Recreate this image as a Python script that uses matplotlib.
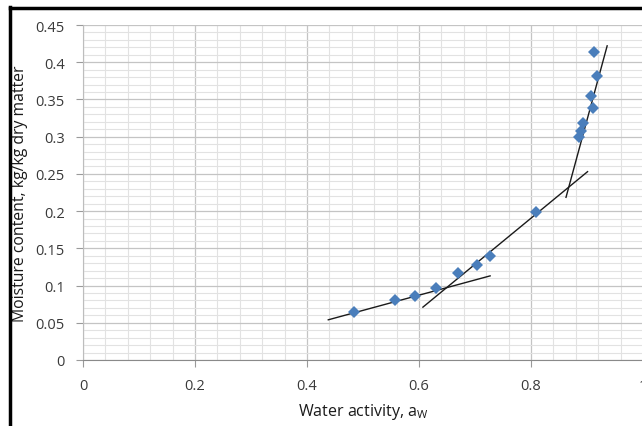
import numpy as np
import matplotlib
matplotlib.use('Agg')
import matplotlib.pyplot as plt
from matplotlib.lines import Line2D
from matplotlib.ticker import MultipleLocator

plt.rcParams['font.family'] = ['Open Sans', 'DejaVu Sans']
plt.rcParams['mathtext.fontset'] = 'custom'
plt.rcParams['mathtext.rm'] = 'Open Sans'
plt.rcParams['mathtext.it'] = 'Open Sans'

# measured sorption points (water activity, moisture content)
aw = [0.484, 0.557, 0.593, 0.630, 0.670, 0.703, 0.727, 0.809,
      0.886, 0.889, 0.892, 0.911, 0.908, 0.917, 0.913]
mc = [0.065, 0.080, 0.086, 0.097, 0.117, 0.127, 0.140, 0.199,
      0.300, 0.308, 0.319, 0.339, 0.355, 0.381, 0.414]

# three straight-line segments (start/end points)
seg1_x = [0.438, 0.727]
seg1_y = [0.054, 0.113]
seg2_x = [0.607, 0.901]
seg2_y = [0.071, 0.253]
seg3_x = [0.8625, 0.936]
seg3_y = [0.2185, 0.422]

fig = plt.figure(figsize=(6.42, 4.27), dpi=100)
ax = fig.add_axes([83 / 642, 66 / 427, 560 / 642, 335 / 427])

ax.set_xlim(0, 1)
ax.set_ylim(0, 0.45)
ax.xaxis.set_major_locator(MultipleLocator(0.2))
ax.xaxis.set_minor_locator(MultipleLocator(0.04))
ax.yaxis.set_major_locator(MultipleLocator(0.05))
ax.yaxis.set_minor_locator(MultipleLocator(0.01))
ax.xaxis.set_major_formatter(plt.FuncFormatter(lambda v, p: f'{v:g}'))
ax.yaxis.set_major_formatter(plt.FuncFormatter(lambda v, p: f'{v:g}'))

ax.grid(which='major', color='#c4c4c4', lw=0.9)
ax.grid(which='minor', color='#e2e2e2', lw=0.8)
ax.set_axisbelow(True)

for s in ['top', 'right']:
    ax.spines[s].set_visible(False)
ax.spines['left'].set_color('#bdbdbd')
ax.spines['bottom'].set_color('#8a8a8a')

ax.tick_params(which='major', length=5, width=0.8, color='#9a9a9a',
               labelsize=10.5, labelcolor='#3a3a3a')
ax.tick_params(axis='x', which='major', pad=8)
ax.tick_params(axis='y', which='major', pad=8)
ax.tick_params(which='minor', length=0)

ax.plot(seg1_x, seg1_y, color='#1a1a1a', lw=1.0)
ax.plot(seg2_x, seg2_y, color='#1a1a1a', lw=1.0)
ax.plot(seg3_x, seg3_y, color='#1a1a1a', lw=1.0)
ax.plot(aw, mc, 'D', color='#4a7ebb', markersize=6, markeredgewidth=0, zorder=3)

ax.set_xlabel(r'Water activity, a$_\mathrm{W}$', fontsize=11.5, color='#1a1a1a')
ax.set_ylabel('Moisture content, kg/kg dry matter', fontsize=11.3, color='#1a1a1a')
ax.xaxis.set_label_coords(0.5, -41 / 335)
ax.yaxis.set_label_coords(-55 / 560, 0.5)

# black frame on left and top
fig.add_artist(Line2D([10 / 642, 10 / 642], [0, 1 - 8 / 427], transform=fig.transFigure,
                      color='black', lw=2.5))
fig.add_artist(Line2D([10 / 642, 1], [1 - 8.5 / 427, 1 - 8.5 / 427], transform=fig.transFigure,
                      color='black', lw=2.5))

fig.savefig('out.png', dpi=100)
